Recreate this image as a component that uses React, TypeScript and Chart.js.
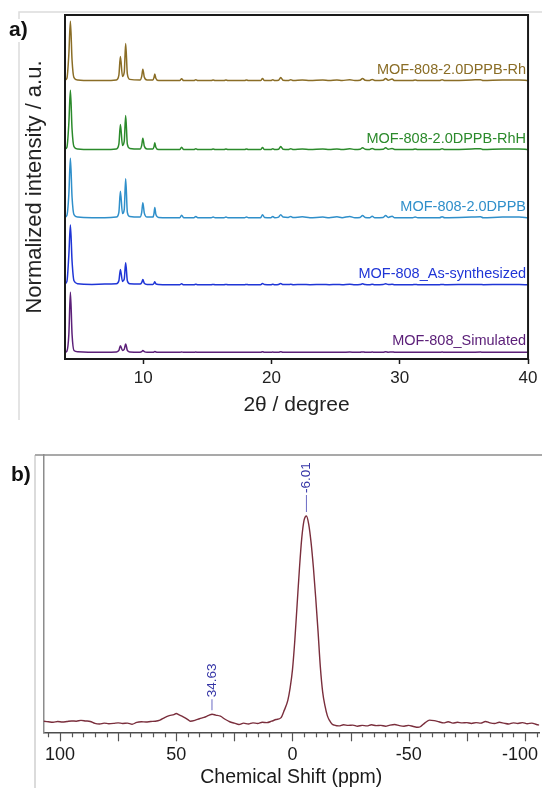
import React, { useEffect, useRef } from "react";
import { Chart, registerables } from "chart.js";

Chart.register(...registerables);

const FONT = '"Liberation Sans", Arial, Helvetica, sans-serif';
Chart.defaults.font.family = FONT;
Chart.defaults.color = "#222";

// ---------------- Panel a: PXRD patterns ----------------
const twoTheta = [3.9, 4.05, 4.2, 4.32, 4.45, 4.6, 4.9, 6.0, 7.0, 7.9, 8.1, 8.22, 8.38, 8.52, 8.63, 8.76, 8.95, 9.75, 9.88, 9.97, 10.08, 10.3, 10.75, 10.84, 10.9, 10.98, 11.2, 12.85, 12.99, 13.15, 13.95, 14.1, 14.25, 15.3, 15.45, 15.6, 16.3, 16.45, 16.6, 17.9, 18.05, 18.2, 19.15, 19.3, 19.45, 19.95, 20.1, 20.25, 20.55, 20.72, 20.9, 21.3, 21.5, 21.7, 22.4, 23.0, 24.0, 24.5, 25.1, 25.5, 26.1, 26.5, 26.9, 27.1, 27.3, 27.65, 27.85, 28.05, 28.7, 28.9, 29.1, 29.4, 29.6, 31.0, 31.2, 31.4, 33.1, 33.3, 33.5, 35.6, 36.3, 36.5, 38.0, 39.3, 40.0];

const intRh = [0.02, 0.05, 0.45, 1.0, 0.35, 0.06, 0.02, 0.01, 0.01, 0.02, 0.1, 0.41, 0.08, 0.15, 0.63, 0.12, 0.03, 0.02, 0.08, 0.2, 0.07, 0.02, 0.02, 0.06, 0.12, 0.05, 0.01, 0.01, 0.04, 0.01, 0.01, 0.025, 0.01, 0.01, 0.02, 0.01, 0.01, 0.02, 0.01, 0.01, 0.02, 0.01, 0.01, 0.045, 0.01, 0.01, 0.025, 0.01, 0.015, 0.06, 0.015, 0.01, 0.025, 0.01, 0.02, 0.01, 0.02, 0.01, 0.02, 0.01, 0.025, 0.01, 0.015, 0.045, 0.015, 0.01, 0.03, 0.01, 0.015, 0.045, 0.015, 0.035, 0.01, 0.01, 0.02, 0.01, 0.01, 0.025, 0.01, 0.02, 0.025, 0.01, 0.02, 0.02, 0.01];
const intRhH = [0.02, 0.05, 0.45, 1.0, 0.35, 0.06, 0.02, 0.01, 0.01, 0.02, 0.1, 0.43, 0.08, 0.15, 0.58, 0.1, 0.03, 0.02, 0.08, 0.2, 0.07, 0.02, 0.02, 0.06, 0.125, 0.05, 0.01, 0.01, 0.05, 0.01, 0.01, 0.025, 0.01, 0.01, 0.02, 0.01, 0.01, 0.02, 0.01, 0.01, 0.02, 0.01, 0.01, 0.045, 0.01, 0.01, 0.025, 0.01, 0.015, 0.06, 0.015, 0.01, 0.025, 0.01, 0.02, 0.01, 0.02, 0.01, 0.02, 0.01, 0.025, 0.01, 0.015, 0.04, 0.015, 0.01, 0.03, 0.01, 0.015, 0.04, 0.015, 0.03, 0.01, 0.01, 0.02, 0.01, 0.01, 0.025, 0.01, 0.02, 0.025, 0.01, 0.02, 0.02, 0.01];
const intDPPB = [0.02, 0.05, 0.4, 1.0, 0.35, 0.06, 0.02, 0.01, 0.01, 0.02, 0.1, 0.45, 0.08, 0.15, 0.66, 0.1, 0.03, 0.02, 0.1, 0.26, 0.09, 0.02, 0.02, 0.08, 0.18, 0.07, 0.015, 0.01, 0.05, 0.01, 0.01, 0.03, 0.01, 0.01, 0.02, 0.01, 0.01, 0.02, 0.01, 0.01, 0.02, 0.01, 0.01, 0.06, 0.015, 0.01, 0.03, 0.01, 0.02, 0.06, 0.02, 0.015, 0.03, 0.012, 0.025, 0.01, 0.02, 0.01, 0.025, 0.01, 0.03, 0.01, 0.015, 0.045, 0.015, 0.01, 0.035, 0.01, 0.015, 0.045, 0.015, 0.035, 0.01, 0.01, 0.02, 0.01, 0.01, 0.025, 0.01, 0.02, 0.025, 0.01, 0.02, 0.02, 0.01];
const intAs = [0.02, 0.06, 0.5, 1.0, 0.4, 0.07, 0.02, 0.01, 0.015, 0.02, 0.07, 0.26, 0.06, 0.1, 0.37, 0.07, 0.02, 0.015, 0.04, 0.09, 0.03, 0.01, 0.01, 0.03, 0.055, 0.02, 0.01, 0.005, 0.02, 0.005, 0.005, 0.012, 0.005, 0.005, 0.01, 0.005, 0.005, 0.01, 0.005, 0.005, 0.01, 0.005, 0.005, 0.025, 0.008, 0.005, 0.012, 0.005, 0.01, 0.025, 0.008, 0.008, 0.012, 0.006, 0.01, 0.005, 0.01, 0.005, 0.01, 0.005, 0.012, 0.005, 0.008, 0.02, 0.008, 0.005, 0.012, 0.005, 0.008, 0.02, 0.008, 0.012, 0.005, 0.005, 0.01, 0.005, 0.005, 0.01, 0.005, 0.01, 0.01, 0.005, 0.008, 0.008, 0.005];
const intSim = [0.0, 0.02, 0.3, 1.0, 0.3, 0.03, 0.01, 0.0, 0.0, 0.005, 0.03, 0.11, 0.03, 0.05, 0.14, 0.03, 0.005, 0.0, 0.01, 0.03, 0.01, 0.0, 0.0, 0.005, 0.015, 0.005, 0.0, 0.0, 0.005, 0.0, 0.0, 0.003, 0.0, 0.0, 0.002, 0.0, 0.0, 0.002, 0.0, 0.0, 0.002, 0.0, 0.0, 0.008, 0.0, 0.0, 0.003, 0.0, 0.0, 0.008, 0.0, 0.0, 0.002, 0.0, 0.002, 0.0, 0.002, 0.0, 0.002, 0.0, 0.003, 0.0, 0.0, 0.006, 0.0, 0.0, 0.004, 0.0, 0.0, 0.008, 0.002, 0.006, 0.0, 0.0, 0.002, 0.0, 0.0, 0.003, 0.0, 0.002, 0.003, 0.0, 0.002, 0.002, 0.0];

const xrdNames = ["MOF-808-2.0DPPB-Rh", "MOF-808-2.0DPPB-RhH", "MOF-808-2.0DPPB", "MOF-808_As-synthesized", "MOF-808_Simulated"];
const xrdOffsets = [4.63, 3.48, 2.345, 1.233, 0.112];
const xrdColors = ["#8a6d26", "#2b8a2b", "#2f8fca", "#1f35d6", "#5c2079"];
const xrdRange = [3.9, 40];
const xrdYMax = 5.733;

// ---------------- Panel b: NMR spectrum ----------------
const ppm = [107, 105, 103, 101, 99, 97, 95, 93, 91, 89, 87, 85, 83, 81, 79, 77, 75, 73, 71, 69, 67, 65, 63, 61, 59, 57, 55, 53, 51,
  50, 49, 47, 45, 44, 42, 40, 38, 36, 34.6, 33, 31, 29, 27, 25, 23, 21, 19, 17, 15, 13, 11, 9, 7, 5, 3.5, 2, 1, 0,
  -1, -2, -3, -4, -5, -6, -7, -8, -9, -10, -11, -12, -13, -14, -15, -16, -17, -18,
  -20, -22, -24, -26, -28, -30, -32, -34, -36, -38, -40, -42, -44, -46, -48, -50, -52, -54,
  -55, -57, -59, -61, -63, -65, -67, -69, -71, -73, -75, -77, -79, -81, -83, -85, -87, -89, -91, -93, -95, -97, -99, -101, -103, -105, -106.2];
const nmrIntensity = [4.0, 3.8, 3.6, 3.9, 3.7, 3.9, 4.1, 4.0, 4.3, 4.1, 3.9, 3.2, 3.0, 3.3, 3.1, 3.2, 3.4, 3.2, 3.3, 2.9, 3.6, 3.8, 3.7, 3.9, 4.0, 4.4, 5.3, 6.0, 6.4,
  6.8, 6.4, 5.6, 4.6, 4.0, 4.3, 4.9, 5.4, 6.1, 6.5, 6.2, 5.8, 4.7, 3.8, 3.3, 2.8, 3.3, 3.0, 3.4, 3.2, 3.6, 3.5, 4.0, 4.6, 5.2, 8.0, 11.5, 16.0, 22.5,
  33.0, 46.0, 59.0, 70.0, 76.5, 78.0, 75.0, 68.5, 59.5, 48.5, 36.5, 23.5, 14.5, 9.5, 6.0, 4.2, 3.0, 2.6,
  2.3, 2.7, 2.5, 2.6, 2.2, 2.5, 2.3, 2.7, 2.4, 2.5, 2.2, 2.6, 2.8, 2.4, 2.2, 2.5, 2.1, 1.8,
  2.0, 3.4, 4.4, 4.2, 3.8, 3.4, 3.8, 3.3, 3.6, 3.4, 3.5, 3.2, 3.5, 3.3, 3.9, 3.4, 3.2, 3.6, 3.3, 3.0, 3.4, 3.2, 3.5, 3.1, 3.3, 2.8, 2.6];
const peakPositions = [-6.01, 34.63];
const peakLabels = ["-6.01", "34.63"];
const nmrRange = [-106.2, 107.2];

function PanelA() {
  const ref = useRef<HTMLCanvasElement>(null);
  useEffect(() => {
    const series = [intRh, intRhH, intDPPB, intAs, intSim];
    const datasets = series.map((s, i) => ({
      label: xrdNames[i],
      data: s.map((v, j) => ({ x: twoTheta[j], y: v + xrdOffsets[i] })),
      borderColor: xrdColors[i],
      borderWidth: 1.5,
      pointRadius: 0,
      fill: false,
      cubicInterpolationMode: "monotone" as const,
    }));
    const decor = {
      id: "decorA",
      beforeDraw(chart: any) {
        const ctx = chart.ctx;
        ctx.save();
        ctx.strokeStyle = "#dcdcdc";
        ctx.lineWidth = 1.5;
        ctx.beginPath();
        ctx.moveTo(19, 420);
        ctx.lineTo(19, 12);
        ctx.lineTo(542, 12);
        ctx.stroke();
        ctx.restore();
      },
      afterDraw(chart: any) {
        const { ctx, chartArea, scales } = chart;
        ctx.save();
        ctx.strokeStyle = "#1a1a1a";
        ctx.lineWidth = 2;
        ctx.strokeRect(chartArea.left, chartArea.top, chartArea.right - chartArea.left, chartArea.bottom - chartArea.top);
        ctx.font = `14.5px ${FONT}`;
        ctx.textAlign = "right";
        ctx.textBaseline = "middle";
        const xr = scales.x.getPixelForValue(xrdRange[1]) - 2;
        xrdNames.forEach((n, i) => {
          ctx.fillStyle = xrdColors[i];
          ctx.fillText(n, xr, scales.y.getPixelForValue(xrdOffsets[i]) - 11);
        });
        ctx.fillStyle = "#fff";
        ctx.fillRect(9, 19, 23, 23);
        ctx.fillStyle = "#111";
        ctx.font = `bold 21px ${FONT}`;
        ctx.textAlign = "left";
        ctx.fillText("a)", 9, 30);
        ctx.restore();
      },
    };
    const chart = new Chart(ref.current as HTMLCanvasElement, {
      type: "line",
      data: { datasets },
      options: {
        animation: false,
        responsive: false,
        maintainAspectRatio: false,
        layout: { padding: { left: 0, top: 15, right: 11, bottom: 0 } },
        plugins: { legend: { display: false }, tooltip: { enabled: false } },
        scales: {
          x: {
            type: "linear",
            min: xrdRange[0],
            max: xrdRange[1],
            ticks: { stepSize: 10, includeBounds: false, autoSkip: false, maxRotation: 0, padding: 4.5, color: "#222", font: { size: 17 } },
            grid: { drawOnChartArea: false, drawTicks: true, tickLength: 5, tickColor: "#1a1a1a", tickWidth: 1.5 },
            border: { display: false },
            title: { display: true, text: "2θ / degree", color: "#222", font: { size: 21 }, padding: { top: 0, bottom: 2.4 } },
            afterFit: (s: any) => { s.height = 61; },
          },
          y: {
            min: 0,
            max: xrdYMax,
            ticks: { display: false },
            grid: { display: false },
            border: { display: false },
            title: { display: true, text: "Normalized intensity / a.u.", color: "#222", font: { size: 22 }, padding: { top: 21.4, bottom: 0 } },
            afterFit: (s: any) => { s.width = 65; },
          },
        },
      } as any,
      plugins: [decor],
    });
    return () => chart.destroy();
  }, []);
  return <canvas ref={ref} width={542} height={420} style={{ position: "absolute", left: 0, top: 0, display: "block" }} />;
}

function PanelB() {
  const ref = useRef<HTMLCanvasElement>(null);
  useEffect(() => {
    const data = ppm.map((p, i) => ({ x: p, y: nmrIntensity[i] }));
    const decor = {
      id: "decorB",
      beforeDraw(chart: any) {
        const { ctx, chartArea } = chart;
        ctx.save();
        ctx.strokeStyle = "#cfcfcf";
        ctx.lineWidth = 1.5;
        ctx.beginPath();
        ctx.moveTo(35, 368);
        ctx.lineTo(35, chartArea.top);
        ctx.stroke();
        ctx.strokeStyle = "#a9a9a9";
        ctx.lineWidth = 2;
        ctx.beginPath();
        ctx.moveTo(35, chartArea.top);
        ctx.lineTo(542, chartArea.top);
        ctx.stroke();
        ctx.restore();
      },
      afterDraw(chart: any) {
        const { ctx, chartArea, scales } = chart;
        const xs = scales.x;
        const ys = scales.y;
        ctx.save();
        // ticks
        ctx.strokeStyle = "#555";
        ctx.lineWidth = 1.2;
        const b = chartArea.bottom;
        xs.ticks.forEach((t: any) => {
          const px = Math.round(xs.getPixelForValue(t.value)) + 0.5;
          const len = t.value % 25 === 0 ? 9 : 5;
          ctx.beginPath();
          ctx.moveTo(px, b);
          ctx.lineTo(px, b + len);
          ctx.stroke();
        });
        // tick labels
        ctx.fillStyle = "#1a1a1a";
        ctx.font = `18px ${FONT}`;
        ctx.textAlign = "center";
        ctx.textBaseline = "middle";
        xs.ticks.forEach((t: any) => {
          if (t.value % 50 !== 0) return;
          const txt = String(t.value);
          const w = ctx.measureText(txt).width;
          let px = xs.getPixelForValue(t.value);
          px = Math.min(px, chart.width - 4 - w / 2);
          ctx.fillText(txt, px, b + 23);
        });
        // axis title
        ctx.font = `19.5px ${FONT}`;
        ctx.fillText("Chemical Shift (ppm)", (chartArea.left + chartArea.right) / 2, 357.5);
        // peak annotations
        const leader = [17, 11];
        peakPositions.forEach((p, i) => {
          let best = 0;
          ppm.forEach((v, j) => { if (Math.abs(v - p) < Math.abs(ppm[best] - p)) best = j; });
          const px = xs.getPixelForValue(p);
          const py = ys.getPixelForValue(nmrIntensity[best]);
          ctx.strokeStyle = "#6a6ac4";
          ctx.lineWidth = 1;
          ctx.beginPath();
          ctx.moveTo(px, py - 4);
          ctx.lineTo(px, py - 4 - leader[i]);
          ctx.stroke();
          ctx.save();
          ctx.translate(px, py - 6 - leader[i]);
          ctx.rotate(-Math.PI / 2);
          ctx.fillStyle = "#3535a6";
          ctx.font = `13.5px ${FONT}`;
          ctx.textAlign = "left";
          ctx.textBaseline = "middle";
          ctx.fillText(peakLabels[i], 0, 0);
          ctx.restore();
        });
        // panel letter
        ctx.fillStyle = "#111";
        ctx.font = `bold 21px ${FONT}`;
        ctx.textAlign = "left";
        ctx.textBaseline = "middle";
        ctx.fillText("b)", 11, 55);
        ctx.restore();
      },
    };
    const chart = new Chart(ref.current as HTMLCanvasElement, {
      type: "line",
      data: {
        datasets: [{
          label: "NMR",
          data,
          borderColor: "#7a2e3c",
          borderWidth: 1.4,
          pointRadius: 0,
          fill: false,
          cubicInterpolationMode: "monotone" as const,
        }],
      },
      options: {
        animation: false,
        responsive: false,
        maintainAspectRatio: false,
        layout: { padding: { left: 0, top: 35, right: 2.7, bottom: 0 } },
        plugins: { legend: { display: false }, tooltip: { enabled: false } },
        scales: {
          x: {
            type: "linear",
            reverse: true,
            min: nmrRange[0],
            max: nmrRange[1],
            ticks: { display: false, stepSize: 5, includeBounds: false, autoSkip: false },
            grid: { display: false },
            border: { display: true, color: "#4d4d4d", width: 1.5 },
            afterFit: (s: any) => { s.height = 55.7; },
          },
          y: {
            min: 0,
            max: 100,
            ticks: { display: false },
            grid: { display: false },
            border: { display: true, color: "#8c8c8c", width: 1.5 },
            afterFit: (s: any) => { s.width = 43.3; },
          },
        },
      } as any,
      plugins: [decor],
    });
    return () => chart.destroy();
  }, []);
  return <canvas ref={ref} width={542} height={368} style={{ position: "absolute", left: 0, top: 420, display: "block" }} />;
}

export default function App() {
  return (
    <div style={{ position: "absolute", left: 0, top: 0, width: 542, height: 788, background: "#fff", overflow: "hidden" }}>
      <PanelA />
      <PanelB />
    </div>
  );
}
